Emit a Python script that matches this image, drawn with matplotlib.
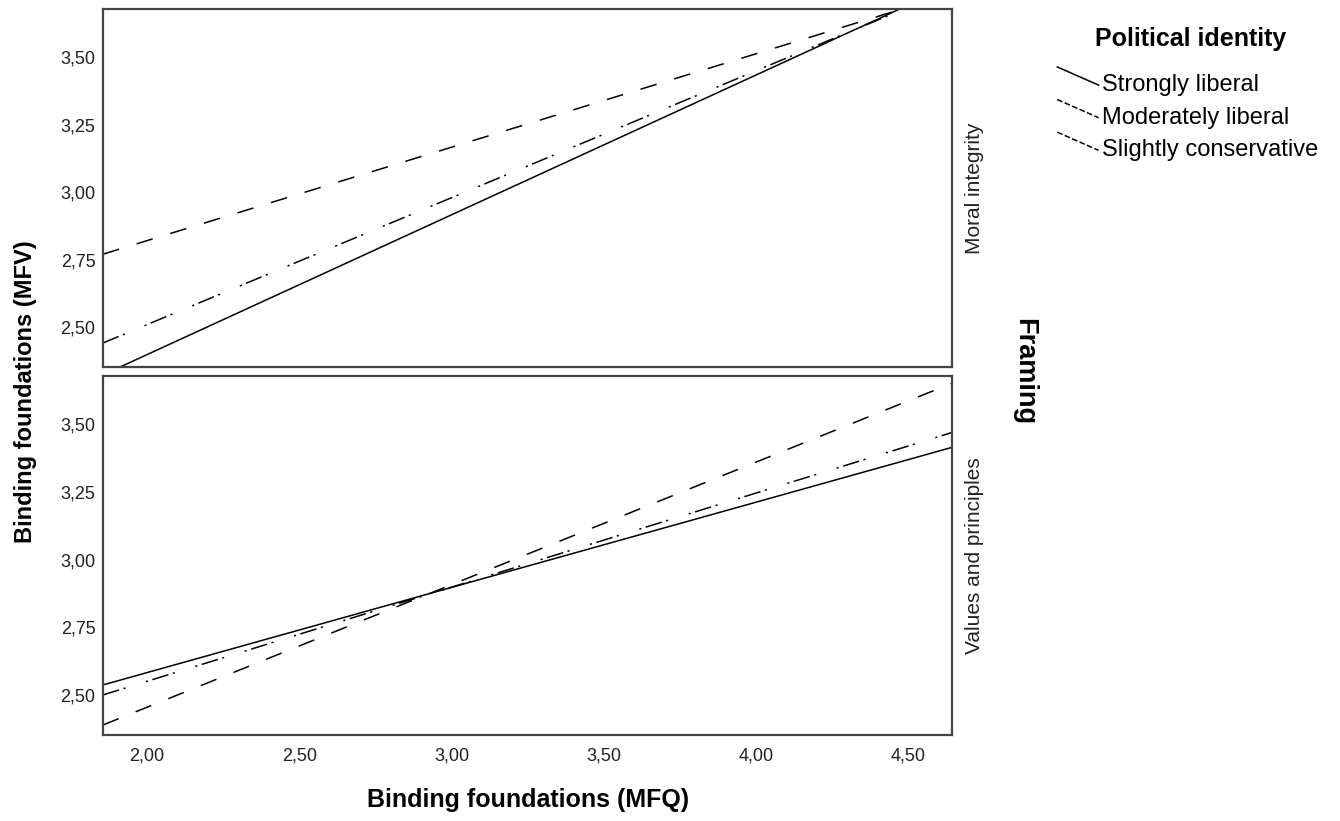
import numpy as np
import matplotlib
matplotlib.use('Agg')
import matplotlib.pyplot as plt
from matplotlib.legend_handler import HandlerBase
from matplotlib.lines import Line2D
from matplotlib.ticker import FuncFormatter

plt.rcParams['font.family'] = ['Liberation Sans', 'DejaVu Sans']

# fit-line endpoints, at x = 1.855 and x = 4.645
x_ends = [1.855, 4.645]
groups = ['Strongly liberal', 'Moderately liberal', 'Slightly conservative']
panels = ['Moral integrity', 'Values and principles']
moral_y = {
    'Strongly liberal': [2.323, 3.767],
    'Moderately liberal': [2.441, 3.752],
    'Slightly conservative': [2.770, 3.735],
}
values_y = {
    'Strongly liberal': [2.537, 3.415],
    'Moderately liberal': [2.500, 3.470],
    'Slightly conservative': [2.389, 3.652],
}
y_ticks = [2.50, 2.75, 3.00, 3.25, 3.50]
x_ticks = [2.00, 2.50, 3.00, 3.50, 4.00, 4.50]

styles = {
    'Strongly liberal': '-',
    'Moderately liberal': (0, (11, 3, 1.4, 14, 1.4, 3)),
    'Slightly conservative': (0, (11, 12)),
}

comma = FuncFormatter(lambda v, p: f'{v:.2f}'.replace('.', ','))


class DiagHandler(HandlerBase):
    # SPSS style legend sample: a short slanted line
    def create_artists(self, legend, orig_handle, xdescent, ydescent,
                       width, height, fontsize, trans):
        ln = Line2D([-xdescent, -xdescent + width],
                    [-ydescent + height * 1.45, -ydescent + height * 0.35],
                    color='black', lw=orig_handle.get_linewidth(),
                    linestyle=orig_handle.get_linestyle())
        ln.set_transform(trans)
        return [ln]


fig = plt.figure(figsize=(13.4, 8.21), dpi=100)
ax_top = fig.add_axes([0.0769, 0.553, 0.6336, 0.436])
ax_bot = fig.add_axes([0.0769, 0.1048, 0.6336, 0.437])

handles = []
for ax, data, name in [(ax_top, moral_y, panels[0]), (ax_bot, values_y, panels[1])]:
    for g in groups:
        l, = ax.plot(x_ends, data[g], color='black', lw=1.1, linestyle=styles[g])
        if ax is ax_top:
            handles.append(l)
    ax.set_xlim(1.855, 4.645)
    ax.set_ylim(2.352, 3.678)
    ax.set_yticks(y_ticks)
    ax.set_xticks(x_ticks)
    ax.yaxis.set_major_formatter(comma)
    ax.xaxis.set_major_formatter(comma)
    ax.tick_params(axis='y', length=0, pad=5.5, labelsize=13, colors='#222222')
    ax.tick_params(axis='x', length=0, pad=9, labelsize=13, colors='#222222')
    for s in ax.spines.values():
        s.set_color('#444444')
        s.set_linewidth(1.6)
    ax.text(1.027, 0.5, name, transform=ax.transAxes, rotation=90,
            ha='center', va='center', fontsize=15, color='#222222')

ax_top.tick_params(labelbottom=False)

fig.text(0.019, 0.523, 'Binding foundations (MFV)', rotation=90, ha='center',
         va='center', fontsize=17, fontweight='bold')
fig.text(0.394, 0.026, 'Binding foundations (MFQ)', ha='center', va='center',
         fontsize=18, fontweight='bold')
fig.text(0.764, 0.548, 'Framing', rotation=-90, ha='center', va='center',
         fontsize=19.5, fontweight='bold')

# legend title as separate text so the gap below it matches
fig.text(0.8885, 0.953, 'Political identity', ha='center', va='center',
         fontsize=18, fontweight='bold')
leg = fig.legend(handles, groups, loc='upper left', bbox_to_anchor=(0.789, 0.910),
                 frameon=False, fontsize=17,
                 handler_map={Line2D: DiagHandler()}, handlelength=1.75,
                 handletextpad=0.15, labelspacing=0.45, borderaxespad=0,
                 borderpad=0)

fig.savefig('out.png', dpi=100, facecolor='white')
